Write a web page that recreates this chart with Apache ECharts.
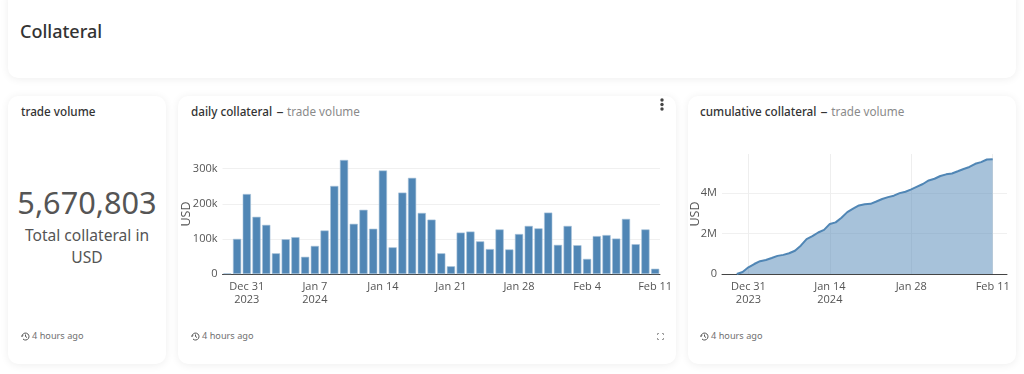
<!DOCTYPE html>
<html><head><meta charset="utf-8">
<script src="https://cdn.jsdelivr.net/npm/echarts@6/dist/echarts.min.js"></script>
<style>
html,body{margin:0;padding:0;width:1024px;height:374px;overflow:hidden;background:#fff;font-family:"Noto Sans",sans-serif}
.card{position:absolute;background:#fff;border-radius:10px;box-shadow:0 1px 8px rgba(0,0,0,.07)}
.t{position:absolute;white-space:nowrap}
#c{position:absolute;left:0;top:0;width:1024px;height:374px}
.h{font-size:11.7px;font-weight:500;color:#333;top:103px;line-height:17px}
.h span{color:#8a8a8a;font-weight:400}
.h b{font-weight:500;margin:0 4px 0 5px;display:inline-block;transform:scaleX(1.2)}
.ago{font-size:9.2px;color:#6f6f6f;top:329px;line-height:14px}
.ago svg{vertical-align:-1.5px;margin-right:2px}
</style></head><body>
<div class="card" style="left:8px;top:-12px;width:1008px;height:90px"></div>
<div class="card" style="left:8px;top:96px;width:158px;height:268px"></div>
<div class="card" style="left:178px;top:96px;width:498px;height:268px"></div>
<div class="card" style="left:688px;top:96px;width:328px;height:268px"></div>
<div class="t" style="left:20px;top:19px;font-size:18px;font-weight:500;color:#333;line-height:25px">Collateral</div>
<div class="t h" style="left:21px">trade volume</div>
<div class="t h" style="left:191px">daily collateral<b>–</b><span>trade volume</span></div>
<div class="t h" style="left:700px">cumulative collateral<b>–</b><span>trade volume</span></div>
<div class="t" style="left:8px;width:158px;text-align:center;top:180px;font-size:30.7px;color:#555;line-height:44px">5,670,803</div>
<div class="t" style="left:8px;width:158px;text-align:center;white-space:normal;top:224px;font-size:15.6px;color:#555;line-height:22px;padding:0 14px;box-sizing:border-box">Total collateral in USD</div>
<svg style="position:absolute;left:659px;top:97px" width="6" height="16"><circle cx="3" cy="3" r="1.7" fill="#444"/><circle cx="3" cy="7.5" r="1.7" fill="#444"/><circle cx="3" cy="12" r="1.7" fill="#444"/></svg>
<svg style="position:absolute;left:657px;top:333px" width="7" height="7" fill="none" stroke="#999" stroke-width="1"><path d="M.5 2v-1.500h1.500M5 .5h1.500v1.500M6.500 5v1.500h-1.500M2 6.500h-1.500v-1.500"/></svg>
<div class="t ago" style="left:21px"><svg width="9" height="9" viewBox="0 0 9 9" fill="none" stroke="#555" stroke-width="1"><path d="M1 4.500a3.500 3.500 0 1 1 1 2.500M4.500 2.500v2l1.500 1M0 3.500l1 1 1-1"/></svg>4 hours ago</div>
<div class="t ago" style="left:191px"><svg width="9" height="9" viewBox="0 0 9 9" fill="none" stroke="#555" stroke-width="1"><path d="M1 4.500a3.500 3.500 0 1 1 1 2.500M4.500 2.500v2l1.500 1M0 3.500l1 1 1-1"/></svg>4 hours ago</div>
<div class="t ago" style="left:700px"><svg width="9" height="9" viewBox="0 0 9 9" fill="none" stroke="#555" stroke-width="1"><path d="M1 4.500a3.500 3.500 0 1 1 1 2.500M4.500 2.500v2l1.500 1M0 3.500l1 1 1-1"/></svg>4 hours ago</div>
<div id="c"></div>
<script>
const dates=['2023-12-29','2023-12-30','2023-12-31','2024-01-01','2024-01-02','2024-01-03','2024-01-04','2024-01-05','2024-01-06','2024-01-07','2024-01-08','2024-01-09','2024-01-10','2024-01-11','2024-01-12','2024-01-13','2024-01-14','2024-01-15','2024-01-16','2024-01-17','2024-01-18','2024-01-19','2024-01-20','2024-01-21','2024-01-22','2024-01-23','2024-01-24','2024-01-25','2024-01-26','2024-01-27','2024-01-28','2024-01-29','2024-01-30','2024-01-31','2024-02-01','2024-02-02','2024-02-03','2024-02-04','2024-02-05','2024-02-06','2024-02-07','2024-02-08','2024-02-09','2024-02-10','2024-02-11'];
const daily=[2000,100000,228000,163000,140000,59000,99000,105000,49000,80000,124000,251000,325000,143000,183000,129000,295000,76000,232000,274000,174000,155000,59000,22000,118000,121000,93000,71000,127000,70000,114000,137000,130000,175000,83000,137000,82000,43000,108000,111000,101000,157000,85000,127000,15000];
const cumulative=[2000,102000,330000,493000,633000,692000,791000,896000,945000,1025000,1149000,1400000,1725000,1868000,2051000,2180000,2475000,2551000,2783000,3057000,3231000,3386000,3445000,3467000,3585000,3706000,3799000,3870000,3997000,4067000,4181000,4318000,4448000,4623000,4706000,4843000,4925000,4968000,5076000,5187000,5288000,5445000,5530000,5657000,5671000];
const dailyTickDates=['2023-12-31','2024-01-07','2024-01-14','2024-01-21','2024-01-28','2024-02-04','2024-02-11'];
const dailyTickLabels=['Dec 31\n2023','Jan 7\n2024','Jan 14','Jan 21','Jan 28','Feb 4','Feb 11'];
const cumTickDates=['2023-12-31','2024-01-14','2024-01-28','2024-02-11'];
const cumTickLabels=['Dec 31\n2023','Jan 14\n2024','Jan 28','Feb 11'];
const dailyYTicks=[0,100000,200000,300000];
const cumYTicks=[0,2000000,4000000];
const P=s=>+echarts.time.parse(s);
const blue='#5086b5',tc='#555',fam='"Open Sans",sans-serif';
function xAxis(i,min,max,dts,lbls,grid){
  const vals=dts.map(P);
  return {type:'value',gridIndex:i,min:P(min),max:P(max),
    axisLine:{show:true,onZero:false,lineStyle:{color:'#444',width:1}},
    axisTick:{show:false,customValues:vals},
    splitLine:{show:grid,lineStyle:{color:'#eeeeee',width:1}},
    axisLabel:{customValues:vals,margin:6,color:tc,fontFamily:fam,fontSize:11,lineHeight:13,hideOverlap:false,showMinLabel:true,showMaxLabel:true,
      formatter:v=>lbls[vals.indexOf(+v)]||''}};
}
function yAxis(i,max,ticks,fmt,gap){
  return {type:'value',gridIndex:i,min:0,max:max,name:'USD',nameLocation:'middle',nameGap:gap,nameMoveOverlap:false,
    nameTextStyle:{color:tc,fontFamily:fam,fontSize:12.5},
    axisLine:{show:false},axisTick:{show:false,customValues:ticks},
    splitLine:{show:true,lineStyle:{color:'#f0f0f0',width:1}},
    axisLabel:{customValues:ticks,margin:5,color:tc,fontFamily:fam,fontSize:11,formatter:fmt}};
}
const chart=echarts.init(document.getElementById('c'),null,{width:1024,height:374});
chart.setOption({animation:false,backgroundColor:'transparent',
  grid:[{left:222.5,top:154,width:437.5,height:120},{left:722,top:154,width:285,height:120}],
  xAxis:[xAxis(0,'2023-12-28 12:00','2024-02-11 12:00',dailyTickDates,dailyTickLabels,false),
         xAxis(1,'2023-12-26 11:00','2024-02-13 11:00',cumTickDates,cumTickLabels,true)],
  yAxis:[yAxis(0,342000,dailyYTicks,v=>v===0?'0':(v/1000)+'k',30),
         yAxis(1,5930000,cumYTicks,v=>v===0?'0':(v/1000000)+'M',20)],
  series:[
    {type:'bar',xAxisIndex:0,yAxisIndex:0,barWidth:8.2,data:dates.map((d,i)=>[P(d),daily[i]]),
     itemStyle:{color:blue,borderColor:'#a7c2da',borderWidth:0.6}},
    {type:'line',xAxisIndex:1,yAxisIndex:1,showSymbol:false,symbol:'none',data:dates.map((d,i)=>[P(d),cumulative[i]]),
     lineStyle:{color:blue,width:2},areaStyle:{color:'rgba(80,134,181,0.5)',opacity:1}}
  ]});
</script>
</body></html>
